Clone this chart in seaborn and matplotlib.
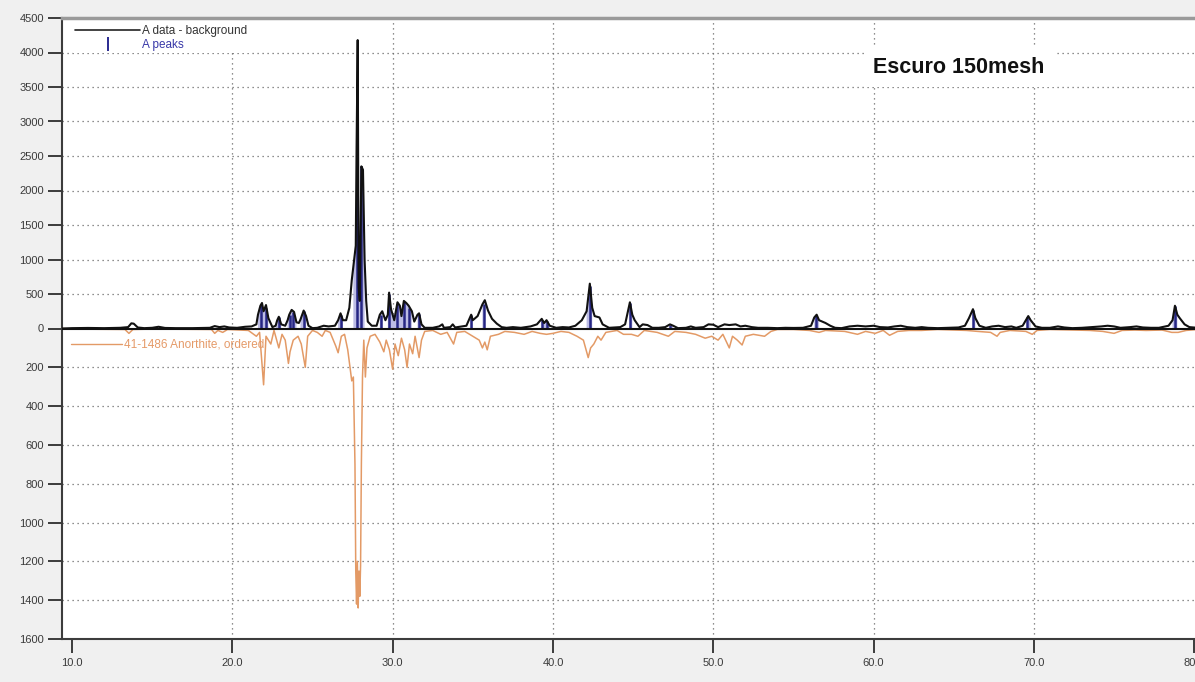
import numpy as np
import pandas as pd
import matplotlib
matplotlib.use("Agg")
import matplotlib.pyplot as plt
import seaborn as sns
from matplotlib.lines import Line2D

# Measured pattern (data minus background), 2-theta in degrees vs counts
two_theta_obs = [
    9.4, 10.0, 11.0, 12.0, 13.0, 13.5, 13.7, 13.85, 14.1, 14.5, 15.0, 15.4, 15.8, 16.5, 17.5,
    18.6, 18.9, 19.2, 19.5, 19.8, 20.3, 20.8, 21.2, 21.5, 21.6, 21.75, 21.85, 21.95, 22.1, 22.25,
    22.5, 22.7, 22.8, 22.9, 23.05, 23.3, 23.45, 23.55, 23.7, 23.85, 24.0, 24.15, 24.25, 24.45,
    24.6, 24.75, 25.0, 25.3, 25.7, 26.0, 26.4, 26.6, 26.75, 26.9, 27.1, 27.3, 27.45, 27.55,
    27.7, 27.75, 27.82, 27.88, 27.95, 28.05, 28.15, 28.25, 28.35, 28.45, 28.7, 29.0, 29.2,
    29.35, 29.55, 29.7, 29.78, 29.9, 30.1, 30.3, 30.45, 30.55, 30.7, 30.85, 31.0, 31.2, 31.35,
    31.55, 31.65, 31.8, 32.0, 32.5, 32.9, 33.1, 33.2, 33.6, 33.75, 33.9, 34.3, 34.6, 34.9,
    35.0, 35.3, 35.6, 35.75, 35.95, 36.2, 36.5, 36.8, 37.1, 37.5, 38.0, 38.6, 39.0, 39.3,
    39.45, 39.6, 39.8, 40.2, 40.6, 41.0, 41.4, 41.8, 42.1, 42.3, 42.45, 42.6, 42.9, 43.1,
    43.5, 44.2, 44.5, 44.8, 44.95, 45.1, 45.4, 45.6, 45.9, 46.2, 46.6, 47.0, 47.3, 47.5, 47.8,
    48.3, 48.6, 48.9, 49.4, 49.7, 50.0, 50.3, 50.7, 51.0, 51.4, 51.7, 52.0, 52.4, 52.8, 53.4,
    54.0, 54.5, 55.0, 55.6, 56.1, 56.3, 56.45, 56.6, 56.8, 57.0, 57.3, 57.6, 58.0, 58.5, 59.0,
    59.5, 60.0, 60.4, 60.9, 61.3, 61.7, 62.1, 62.6, 63.0, 63.4, 64.0, 64.6, 65.3, 65.7, 65.95,
    66.2, 66.35, 66.6, 67.0, 67.4, 67.8, 68.2, 68.6, 68.9, 69.3, 69.65, 69.8, 70.1, 70.5,
    71.0, 71.5, 71.9, 72.4, 73.0, 73.6, 74.2, 74.6, 75.0, 75.4, 76.0, 76.4, 76.8, 77.3, 77.8,
    78.4, 78.65, 78.8, 78.95, 79.1, 79.4, 79.7, 80.2,
]
counts_obs = [
    0, 5, 8, 5, 10, 20, 75, 70, 15, 5, 10, 25, 8, 5, 5,
    10, 35, 20, 30, 15, 10, 25, 30, 60, 200, 330, 370, 250, 340, 150,
    20, 40, 120, 170, 60, 40, 120, 200, 270, 240, 90, 80, 130, 260,
    180, 40, 5, 10, 40, 30, 40, 120, 220, 120, 120, 300, 700, 900,
    1200, 2600, 4180, 600, 400, 2350, 2300, 1000, 400, 100, 40, 40, 200,
    250, 120, 200, 520, 280, 120, 380, 330, 180, 400, 370, 330, 250, 100,
    200, 220, 60, 10, 10, 30, 60, 10, 20, 60, 15, 30, 40, 200,
    120, 180, 350, 410, 260, 140, 70, 20, 10, 20, 10, 30, 60, 140,
    80, 120, 40, 10, 20, 15, 40, 120, 250, 650, 300, 180, 160, 60,
    10, 20, 60, 380, 200, 120, 20, 60, 50, 10, 10, 20, 60, 40, 5,
    10, 30, 10, 20, 60, 55, 20, 60, 50, 60, 30, 40, 20, 10, 10,
    5, 10, 8, 10, 40, 160, 200, 120, 100, 80, 40, 10, 5, 30, 40,
    30, 40, 20, 15, 30, 40, 20, 10, 20, 10, 5, 10, 15, 40, 150,
    280, 150, 40, 10, 30, 40, 20, 30, 10, 40, 180, 120, 30, 10,
    10, 30, 15, 5, 10, 20, 30, 40, 30, 10, 20, 30, 15, 10, 10,
    40, 120, 330, 200, 150, 60, 20, 10,
]

# Peak positions found in the measured pattern
peak_pos = [21.8, 22.1, 22.9, 23.6, 23.8, 24.45, 26.75, 27.75, 28.05, 29.3, 29.78, 30.3,
            30.7, 31.0, 31.65, 34.9, 35.7, 39.3, 39.6, 42.3, 44.8, 47.3, 56.4, 66.2, 69.6, 78.8]
peak_height = [360, 300, 160, 200, 240, 250, 200, 2600, 2350, 200, 500, 350,
               380, 300, 210, 190, 350, 130, 110, 620, 370, 50, 190, 270, 170, 320]

# Reference pattern 41-1486 Anorthite, ordered (counts, drawn downwards)
two_theta_ref = [
    9.4, 10.0, 13.3, 13.55, 13.8, 15.0, 18.7, 18.9, 19.1, 19.4, 19.7, 21.0, 21.5, 21.7, 21.95,
    22.1, 22.4, 22.6, 22.9, 23.1, 23.3, 23.5, 23.6, 23.8, 24.1, 24.3, 24.55, 24.7, 25.0, 25.3,
    25.6, 25.8, 26.1, 26.45, 26.6, 26.8, 27.0, 27.2, 27.45, 27.55, 27.65, 27.7, 27.75, 27.8,
    27.85, 27.9, 27.95, 28.0, 28.05, 28.12, 28.2, 28.3, 28.4, 28.6, 28.9, 29.2, 29.45, 29.6,
    29.8, 30.0, 30.15, 30.35, 30.55, 30.75, 30.9, 31.05, 31.25, 31.4, 31.65, 31.8, 32.0, 32.5,
    33.0, 33.4, 33.8, 34.0, 34.5, 35.0, 35.4, 35.6, 35.75, 35.9, 36.1, 36.6, 37.0, 37.6, 38.2,
    38.7, 39.2, 39.6, 40.0, 40.5, 41.0, 41.5, 41.9, 42.2, 42.35, 42.55, 42.8, 43.0, 43.3, 44.0,
    44.4, 44.9, 45.3, 45.7, 46.5, 47.2, 47.6, 48.3, 48.9, 49.5, 49.9, 50.3, 50.6, 51.0, 51.2,
    51.5, 51.8, 52.0, 52.5, 53.2, 53.6, 54.0, 55.0, 56.0, 56.6, 57.0, 58.2, 59.0, 59.5, 60.1,
    60.6, 61.0, 61.5, 62.2, 63.0, 64.0, 65.0, 65.8, 66.5, 67.3, 67.7, 67.9, 68.5, 69.5, 69.9,
    70.2, 71.0, 72.5, 73.5, 74.3, 75.0, 75.5, 76.3, 77.0, 78.0, 78.6, 79.0, 79.5, 80.2,
]
counts_ref = [
    0, 3, 5, 25, 5, 3, 5, 25, 10, 20, 5, 10, 40, 20, 290,
    40, 80, 10, 100, 30, 60, 180, 120, 60, 40, 80, 200, 40, 10, 20,
    40, 10, 20, 90, 125, 40, 30, 110, 270, 250, 700, 1250, 1420, 1200,
    1440, 1250, 1380, 1220, 700, 250, 60, 250, 100, 40, 30, 70, 120, 60,
    110, 210, 80, 140, 50, 110, 200, 80, 130, 40, 150, 60, 15, 10,
    30, 20, 80, 20, 15, 40, 60, 100, 70, 110, 40, 30, 15, 20, 30,
    15, 25, 30, 25, 15, 20, 40, 60, 150, 100, 80, 40, 60, 20, 10,
    30, 30, 40, 10, 20, 40, 15, 20, 30, 50, 40, 60, 30, 100, 40,
    60, 85, 40, 30, 40, 15, 5, 5, 10, 20, 10, 15, 30, 15, 25,
    10, 35, 15, 10, 10, 5, 8, 10, 15, 20, 40, 20, 10, 15, 30,
    10, 5, 8, 10, 15, 25, 10, 8, 10, 8, 20, 20, 10, 5,
]

upper_ticks = list(range(0, 4501, 500))
lower_ticks = list(range(200, 1601, 200))
x_ticks = [10, 20, 30, 40, 50, 60, 70, 80]

# The lower (reference) half uses its own count scale: 1600 counts span the same
# height as 4500 counts in the upper half.
REF_SCALE = 4500 / 1600

sns.set_theme(style="white")
plt.rcParams["font.family"] = ["Liberation Sans", "DejaVu Sans"]

fig = plt.figure(figsize=(11.95, 6.82), dpi=100, facecolor="#f0f0f0")
ax = fig.add_axes([62 / 1195, 43 / 682, 1 - 62 / 1195 + 0.002, 621 / 682])
ax.set_facecolor("white")

obs = pd.DataFrame({"two_theta": two_theta_obs, "counts": counts_obs})
ref = pd.DataFrame({"two_theta": two_theta_ref,
                    "depth": -np.asarray(counts_ref, dtype=float) * REF_SCALE})

# dotted grid (skipping the zero baseline and the outer x ticks)
for v in upper_ticks[1:]:
    ax.axhline(v, color="#6a6a6a", ls=(0, (1, 3)), lw=0.9, zorder=0)
for v in lower_ticks:
    ax.axhline(-v * REF_SCALE, color="#6a6a6a", ls=(0, (1, 3)), lw=0.9, zorder=0)
for v in x_ticks[1:-1]:
    ax.axvline(v, color="#6a6a6a", ls=(0, (1, 3)), lw=0.9, zorder=0)

# light shading under the identified peaks
xo = np.asarray(two_theta_obs, dtype=float)
yo = np.asarray(counts_obs, dtype=float)
near_peak = np.zeros_like(xo, dtype=bool)
for p in peak_pos:
    near_peak |= np.abs(xo - p) < 0.22
ax.fill_between(xo, 0, yo, where=near_peak, color="#bcbce4", lw=0, zorder=1)

sns.lineplot(data=ref, x="two_theta", y="depth", color="#e39a66", lw=1.1,
             estimator=None, sort=False, ax=ax, zorder=2)
ax.vlines(peak_pos, 0, peak_height, color="#262684", lw=1.8, zorder=3)
sns.lineplot(data=obs, x="two_theta", y="counts", color="#111111", lw=1.5,
             estimator=None, sort=False, ax=ax, zorder=4)
ax.axhline(0, color="#111111", lw=1.5, zorder=5)

ax.set_xlim(9.375, 80.2)
ax.set_ylim(-1600 * REF_SCALE, 4500)
ax.set_xlabel("")
ax.set_ylabel("")

ax.set_xticks(x_ticks)
ax.set_xticklabels([f"{v:.1f}" for v in x_ticks])
ax.set_yticks(upper_ticks + [-v * REF_SCALE for v in lower_ticks])
ax.set_yticklabels([str(v) for v in upper_ticks] + [str(v) for v in lower_ticks])
ax.tick_params(axis="both", which="major", direction="out", length=10, width=1.4,
               color="#3c3c3c", labelsize=8, labelcolor="#3a3a3a",
               bottom=True, left=True, top=False, right=False)
ax.tick_params(axis="y", pad=3)
ax.tick_params(axis="x", pad=4)

for side in ("left", "bottom"):
    ax.spines[side].set_color("#3c3c3c")
    ax.spines[side].set_linewidth(1.5)
ax.spines["top"].set_color("#9a9a9a")
ax.spines["top"].set_linewidth(2.5)
ax.spines["right"].set_visible(False)

# legend for the measured data
obs_handles = [
    Line2D([], [], color="#222222", lw=1.2),
    Line2D([], [], color="#2a2a90", marker="|", ls="none", markersize=10, markeredgewidth=1.4),
]
leg1 = ax.legend(obs_handles, ["A data - background", "A peaks"], loc="upper left",
                 bbox_to_anchor=(0.0095, 0.992), frameon=True, facecolor="white",
                 edgecolor="none", framealpha=1, fancybox=False, handlelength=5.5,
                 handletextpad=0.15, borderpad=0.2, labelspacing=0.15, fontsize=8.5,
                 borderaxespad=0)
leg1.get_texts()[0].set_color("#333333")
leg1.get_texts()[1].set_color("#3838a8")
ax.add_artist(leg1)

# legend for the reference card
ref_handle = [Line2D([], [], color="#e39a66", lw=1.0)]
leg2 = ax.legend(ref_handle, ["41-1486 Anorthite, ordered"], loc="upper left",
                 bbox_to_anchor=(0.006, 0.487), frameon=False, handlelength=4.3,
                 handletextpad=0.2, borderpad=0.2, fontsize=8.5, borderaxespad=0)
leg2.get_texts()[0].set_color("#e59a68")

ax.text(0.790, 0.921, "Escuro 150mesh", transform=ax.transAxes, ha="center", va="center",
        fontsize=15.5, fontweight="bold", color="#111111",
        bbox=dict(boxstyle="square,pad=0.45", facecolor="white", edgecolor="none"),
        zorder=6)

fig.savefig("out.png", dpi=100, facecolor=fig.get_facecolor())
